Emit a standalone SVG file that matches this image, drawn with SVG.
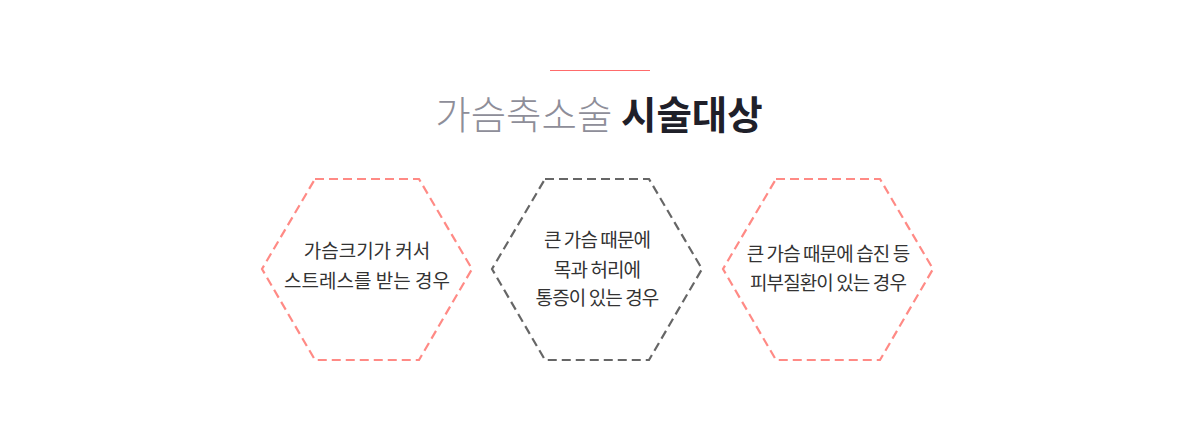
<svg xmlns="http://www.w3.org/2000/svg" width="1200" height="435" viewBox="0 0 1200 435">
<style>
.hex{fill:none;stroke-width:2.2;stroke-dasharray:9 5}
.pink{stroke:#ff8a85}
.gray{stroke:#666}
.t{font-family:"Noto Sans CJK KR","Noto Sans",sans-serif;font-size:19px;fill:#333;text-anchor:middle}
.c{letter-spacing:-0.9px}
.title{font-family:"Noto Sans CJK KR","Noto Sans",sans-serif;font-size:38.5px;text-anchor:middle}
</style>
<rect width="1200" height="435" fill="#fff"/>
<g id="title">
<line x1="550" y1="70.5" x2="650" y2="70.5" stroke="#ff6b6b" stroke-width="1"/>
<text class="title" x="599" y="129"><tspan fill="#8e8e99" font-weight="300">가슴축소술</tspan> <tspan fill="#1f2029" font-weight="bold">시술대상</tspan></text>
</g>
<g id="node1">
<polygon class="hex pink" points="315,179 419,179 472,269 419,360 315,360 262,269"/>
<text class="t" x="367" y="258">가슴크기가 커서</text>
<text class="t" x="367" y="288">스트레스를 받는 경우</text>
</g>
<g id="node2">
<polygon class="hex gray" points="545,179 649,179 702,269 649,360 545,360 492,269"/>
<text class="t c" x="597" y="247">큰 가슴 때문에</text>
<text class="t c" x="597" y="277">목과 허리에</text>
<text class="t c" x="597" y="305">통증이 있는 경우</text>
</g>
<g id="node3">
<polygon class="hex pink" points="776,179 880,179 933,269 880,360 776,360 723,269"/>
<text class="t c" x="828" y="261">큰 가슴 때문에 습진 등</text>
<text class="t c" x="828" y="290">피부질환이 있는 경우</text>
</g>
<g id="connectors"></g>
</svg>
